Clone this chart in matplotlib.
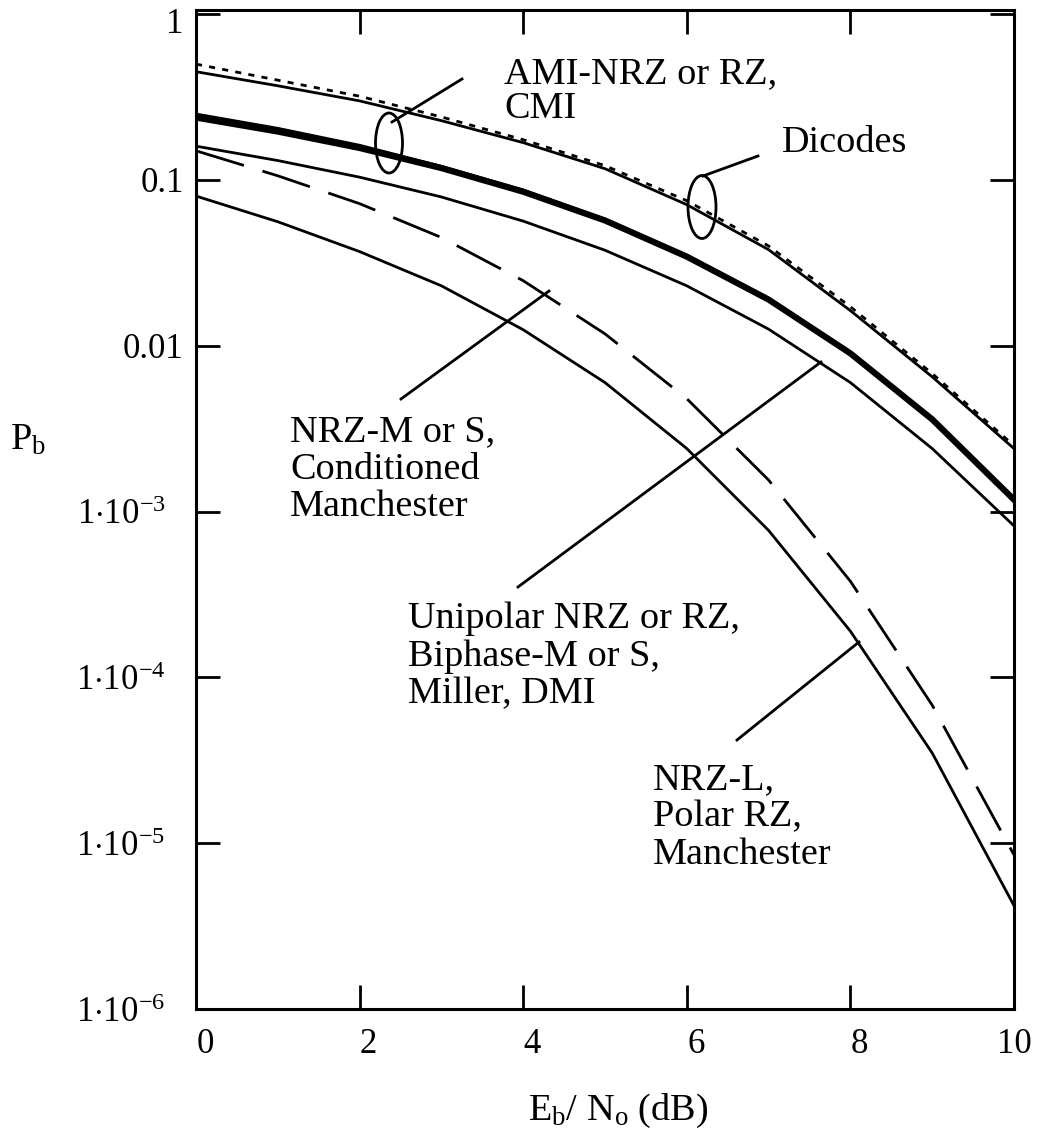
"""
Bit error probability vs Eb/N0 for several line codes.
"""
import matplotlib
matplotlib.use('Agg')
import matplotlib.pyplot as plt
from matplotlib.patches import Ellipse
import matplotlib.transforms as mtransforms

# Eb/N0 in dB and Pb
ebno = [0, 1, 2, 3, 4, 5, 6, 7, 8, 9, 10]
dicode_dotted = [0.50, 0.40, 0.32, 0.24, 0.175, 0.122, 0.075, 0.040, 0.0172, 0.0068, 0.0025]
dicode_solid = [0.45, 0.37, 0.30, 0.228, 0.168, 0.117, 0.071, 0.038, 0.0163, 0.0065, 0.0024]
cmi = [0.25, 0.205, 0.162, 0.121, 0.087, 0.058, 0.035, 0.0192, 0.0091, 0.0036, 0.00118]
ami = [0.238, 0.196, 0.156, 0.118, 0.085, 0.057, 0.0345, 0.019, 0.009, 0.0036, 0.00118]
unipolar = [0.16, 0.131, 0.104, 0.079, 0.0565, 0.0377, 0.023, 0.0126, 0.006, 0.0024, 0.00082]
nrz_m = [0.15, 0.106, 0.072, 0.045, 0.0247, 0.0118, 0.0048, 0.00155, 0.00038, 0.000068, 0.0000085]
nrz_l = [0.080, 0.056, 0.037, 0.023, 0.0125, 0.006, 0.0024, 0.00077, 0.00019, 0.000035, 0.0000042]

x_ticks = [0, 2, 4, 6, 8, 10]
y_ticks = [1, 0.1, 0.01, 1e-3, 1e-4, 1e-5, 1e-6]
y_ticklabels = ["1", "0.1", "0.01", r"$1{\cdot}10^{-3}$", r"$1{\cdot}10^{-4}$",
                r"$1{\cdot}10^{-5}$", r"$1{\cdot}10^{-6}$"]

plt.rcParams['font.family'] = 'Liberation Serif'
plt.rcParams['mathtext.fontset'] = 'custom'
plt.rcParams['mathtext.rm'] = 'Liberation Serif'
plt.rcParams['mathtext.it'] = 'Liberation Serif:italic'
FS = 27.5
TFS = 25

W, H = 1050, 1134
fig = plt.figure(figsize=(W / 100, H / 100), dpi=100)
L, R, T, B = 196, 1014, 10, 1009
ax = fig.add_axes([L / W, 1 - B / H, (R - L) / W, (B - T) / H])


def fx(px):
    return (px - L) / (R - L)


def fy(py):
    return (B - py) / (B - T)


ax.plot(ebno, dicode_dotted, color='k', lw=2, dashes=(2.2, 2.6))
ax.plot(ebno, dicode_solid, color='k', lw=2)
ax.plot(ebno, cmi, color='k', lw=2)
ax.plot(ebno, ami, color='k', lw=4.5)
ax.plot(ebno, unipolar, color='k', lw=2)
ax.plot(ebno, nrz_m, color='k', lw=2, dashes=(18, 7))
ax.plot(ebno, nrz_l, color='k', lw=2)

ax.set_yscale('log')
ax.set_xlim(0, 10)
ax.set_ylim(1e-6, 1.06)
ax.set_xticks(x_ticks)
ax.set_xticklabels([str(v) for v in x_ticks])
ax.set_yticks(y_ticks)
ax.set_yticklabels(y_ticklabels)
ax.minorticks_off()
ax.tick_params(direction='in', length=17, width=2, labelsize=TFS,
               top=True, right=True, color='k')
ax.tick_params(axis='x', pad=14)
ax.tick_params(axis='y', pad=9)
for s in ax.spines.values():
    s.set_linewidth(2.2)

# single digit x labels sit to the right of their tick
off = mtransforms.ScaledTranslation(9 / 100, 0, fig.dpi_scale_trans)
for lab in ax.get_xticklabels()[:-1]:
    lab.set_transform(lab.get_transform() + off)
# the 1.10^-n labels sit further left, "1" a bit lower
yl = ax.get_yticklabels()
off_y = mtransforms.ScaledTranslation(-18 / 100, 0, fig.dpi_scale_trans)
for lab in yl[3:]:
    lab.set_transform(lab.get_transform() + off_y)
yl[0].set_transform(yl[0].get_transform() +
                    mtransforms.ScaledTranslation(0, -6 / 100, fig.dpi_scale_trans))

fig.text(528 / W, 1 - 1120 / H, r"E$_{\rm b}$/ N$_{\rm o}$ (dB)", fontsize=FS,
         va='baseline', ha='left')
fig.text(10 / W, 1 - 450 / H, r"P$_{\rm b}$", fontsize=FS, va='baseline', ha='left')

# labels and leader lines
labels = [
    ("AMI-NRZ or RZ,\nCMI", 504, 58, 1.0),
    ("Dicodes", 782, 127, 1.1),
    ("NRZ-M or S,\nConditioned\nManchester", 290, 416, 1.1),
    ("Unipolar NRZ or RZ,\nBiphase-M or S,\nMiller, DMI", 408, 603, 1.1),
    ("NRZ-L,\nPolar RZ,\nManchester", 653, 764, 1.1),
]
for txt, px, py, ls in labels:
    ax.text(fx(px), fy(py - 1), txt, transform=ax.transAxes, fontsize=FS,
            ha='left', va='top', linespacing=ls)

leaders = [
    ((462, 79), (392, 122)),
    ((758, 156), (703, 176)),
    ((401, 399), (549, 291)),
    ((518, 587), (821, 362)),
    ((737, 740), (859, 642)),
]
for (x0, y0), (x1, y1) in leaders:
    ax.plot([fx(x0), fx(x1)], [fy(y0), fy(y1)], color='k', lw=2,
            transform=ax.transAxes, clip_on=False)

for cx, cy, w, h in [(389, 143, 27, 60), (702, 207, 28, 63)]:
    ax.add_patch(Ellipse((fx(cx), fy(cy)), w / (R - L), h / (B - T),
                         transform=ax.transAxes, fill=False, ec='k', lw=2))

fig.savefig("out.png", dpi=100, facecolor='white')
